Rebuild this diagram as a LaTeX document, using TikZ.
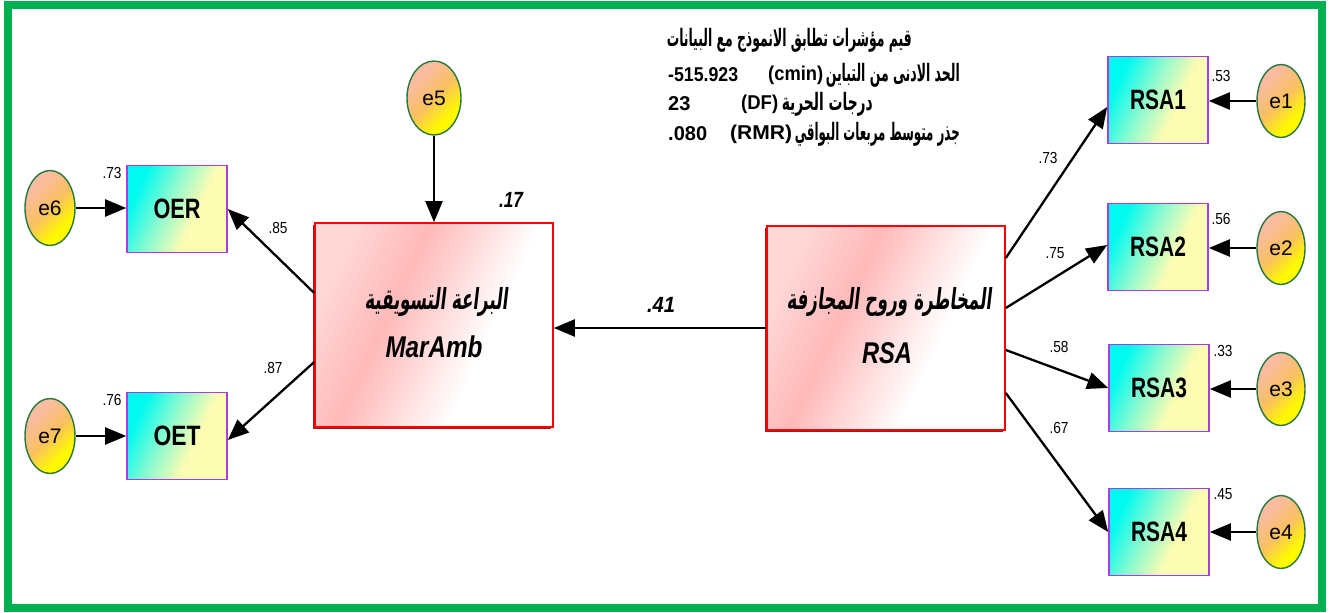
\documentclass[tikz,border=0pt]{standalone}
\usepackage{fontspec}
\usepackage{graphicx}
\setmainfont{Liberation Sans}
\TeXXeTstate=1
\newfontfamily\arabicb[Script=Arabic]{DejaVu Sans Bold}
\newfontfamily\arabicbi[Script=Arabic,FakeSlant=0.2]{DejaVu Sans Bold}
\usetikzlibrary{arrows.meta,shapes.geometric}
\definecolor{frameg}{RGB}{0,176,80}
\definecolor{obsborder}{RGB}{170,60,230}
\definecolor{errborder}{RGB}{40,120,60}
\definecolor{cyA}{RGB}{0,250,240}
\definecolor{cyB}{RGB}{150,250,205}
\definecolor{cyC}{RGB}{252,252,178}
\definecolor{erA}{RGB}{250,188,160}
\definecolor{erB}{RGB}{250,192,95}
\definecolor{erC}{RGB}{255,250,0}
\definecolor{ltA}{RGB}{255,215,215}
\definecolor{ltB}{RGB}{255,185,185}
\definecolor{shadowc}{RGB}{150,30,30}
\pgfdeclarehorizontalshading{obsshade}{100bp}{color(0bp)=(cyA); color(27bp)=(cyA); color(45bp)=(cyB); color(60bp)=(cyC); color(100bp)=(cyC)}
\pgfdeclarehorizontalshading{errshade}{100bp}{color(0bp)=(erA); color(30bp)=(erA); color(50bp)=(erB); color(68bp)=(erC); color(100bp)=(erC)}
\pgfdeclarehorizontalshading{latshade}{100bp}{color(0bp)=(ltA); color(25bp)=(ltA); color(40bp)=(ltB); color(62bp)=(white); color(100bp)=(white)}
\newcommand\fitw[2]{\resizebox{#1}{\height}{#2}}
\tikzset{
 obs/.style={draw=obsborder, line width=1.6pt, shading=obsshade, shading angle=-25, minimum width=100pt, minimum height=87pt, inner sep=0pt, font=\bfseries\fontsize{28}{30}\selectfont},
 err/.style={ellipse, draw=errborder, line width=1.4pt, shading=errshade, shading angle=-45, minimum width=48pt, minimum height=73pt, inner sep=0pt, font=\fontsize{21}{24}\selectfont},
 lat/.style={draw=red, line width=1.6pt, shading=latshade, shading angle=-25, minimum width=238pt, minimum height=204pt, inner sep=0pt},
 conn/.style={line width=2.3pt, -{Triangle[length=21pt,width=17pt]}},
 coef/.style={font=\fontsize{16}{18}\selectfont, inner sep=0pt},
 bcoef/.style={font=\bfseries\itshape\fontsize{22}{24}\selectfont, inner sep=0pt},
 hdr/.style={font=\bfseries\fontsize{20}{22}\selectfont, inner sep=0pt},
 ltxt/.style={inner sep=0pt},
 arhdr/.style={inner sep=0pt, font=\arabicb\fontsize{24}{26}\selectfont},
 arlat/.style={inner sep=0pt, font=\arabicbi\fontsize{29}{32}\selectfont},
 latshadow/.style={shadowc, line width=1.4pt}
}
\begin{document}
\begin{tikzpicture}[x=1pt,y=-1pt]
\useasboundingbox (0,0) rectangle (1336,613);
\draw[frameg, line width=7.5pt] (8,5) rectangle (1322,608);

% header
\node[arhdr, anchor=east] (h1) at (912,40) {\fitw{245pt}{\beginR قيم مؤشرات تطابق الانموذج مع البيانات\endR}};
\node[arhdr, anchor=east] (h2a) at (960,75) {\fitw{134pt}{\beginR الحد الادنى من التباين\endR}};
\node[hdr, anchor=west] (h2b) at (768,75) {\fitw{55pt}{(cmin)}};
\node[hdr, anchor=west] (h2c) at (668,75) {\fitw{70pt}{-515.923}};
\node[arhdr, anchor=east] (h3a) at (873,104) {\fitw{91pt}{\beginR درجات الحرية\endR}};
\node[hdr, anchor=west] (h3b) at (741,104) {\fitw{37pt}{(DF)}};
\node[hdr, anchor=west] (h3c) at (668,104) {23};
\node[arhdr, anchor=east] (h4a) at (960,134) {\fitw{165pt}{\beginR جذر متوسط مربعات البواقي\endR}};
\node[hdr, anchor=west] (h4b) at (730,134) {\fitw{62pt}{(RMR)}};
\node[hdr, anchor=west] (h4c) at (668,134) {.080};

% latent boxes
\draw[latshadow] (313.5,225) -- (313.5,428.5) -- (551,428.5);
\node[lat] (Mar) at (434,325) {};
\node[arlat] (MarAr) at (436,302) {\fitw{143pt}{\beginR البراعة التسويقية\endR}};
\node[ltxt, font=\bfseries\itshape\fontsize{30}{32}\selectfont] (MarEn) at (434,347) {\fitw{97pt}{MarAmb}};
\draw[latshadow] (765.5,228) -- (765.5,431.5) -- (1003,431.5);
\node[lat] (RSA) at (886,328) {};
\node[arlat] (RSAAr) at (889,302) {\fitw{205pt}{\beginR المخاطرة وروح المجازفة\endR}};
\node[ltxt, font=\bfseries\itshape\fontsize{30}{32}\selectfont] (RSAEn) at (887,353) {\fitw{50pt}{RSA}};

% observed boxes
\node[obs] (RSA1) at (1158,100) {\fitw{56pt}{RSA1}};
\node[obs] (RSA2) at (1158,247) {\fitw{56pt}{RSA2}};
\node[obs] (RSA3) at (1159,388) {\fitw{56pt}{RSA3}};
\node[obs] (RSA4) at (1159,532) {\fitw{56pt}{RSA4}};
\node[obs] (OER) at (177,209) {\fitw{47pt}{OER}};
\node[obs] (OET) at (177,436) {\fitw{47pt}{OET}};

% error terms
\node[err] (e1) at (1281,101) {e1};
\node[err] (e2) at (1281,248) {e2};
\node[err] (e3) at (1281,389) {e3};
\node[err] (e4) at (1281,532) {e4};
\node[err, minimum width=54pt, minimum height=74pt] (e5) at (434,98) {e5};
\node[err, minimum width=50pt, minimum height=75pt] (e6) at (50,208) {e6};
\node[err, minimum width=50pt, minimum height=75pt] (e7) at (50,436) {e7};

% connectors
\draw[conn] ([yshift=70pt]RSA.east) -- ([yshift=-7pt]RSA1.west);
\draw[conn] ([yshift=20pt]RSA.east) -- ([yshift=2pt]RSA2.west);
\draw[conn] ([yshift=-22pt]RSA.east) -- (RSA3.west);
\draw[conn] ([yshift=-65pt]RSA.east) -- (RSA4.west);
\draw[conn] (RSA.west) -- (RSA.west -| Mar.east);
\draw[conn] (e5.south) -- (Mar.north);
\draw[conn] ([yshift=32pt]Mar.west) -- (OER.east);
\draw[conn] ([yshift=-37pt]Mar.west) -- ([yshift=-4pt]OET.east);
\draw[conn] (e1.west) -- (e1.west -| RSA1.east);
\draw[conn] (e2.west) -- (e2.west -| RSA2.east);
\draw[conn] (e3.west) -- (e3.west -| RSA3.east);
\draw[conn] (e4.west) -- (e4.west -| RSA4.east);
\draw[conn] (e6.east) -- (e6.east -| OER.west);
\draw[conn] (e7.east) -- (e7.east -| OET.west);

% coefficients
\node[coef] (c1) at (1221,76) {\fitw{19pt}{.53}};
\node[coef] (c2) at (1221,219) {\fitw{19pt}{.56}};
\node[coef] (c3) at (1223,351) {\fitw{19pt}{.33}};
\node[coef] (c4) at (1223,494) {\fitw{19pt}{.45}};
\node[coef] (l1) at (1048,158) {\fitw{19pt}{.73}};
\node[coef] (l2) at (1055,253) {\fitw{19pt}{.75}};
\node[coef] (l3) at (1059,347) {\fitw{19pt}{.58}};
\node[coef] (l4) at (1059,428) {\fitw{19pt}{.67}};
\node[coef] (c6) at (112,173) {\fitw{19pt}{.73}};
\node[coef] (c7) at (112,400) {\fitw{19pt}{.76}};
\node[coef] (l5) at (278,228) {\fitw{19pt}{.85}};
\node[coef] (l6) at (273,368) {\fitw{19pt}{.87}};
\node[bcoef] (r2) at (511,200) {\fitw{24pt}{.17}};
\node[bcoef] (b1) at (661,305) {\fitw{28pt}{.41}};
\end{tikzpicture}
\end{document}
